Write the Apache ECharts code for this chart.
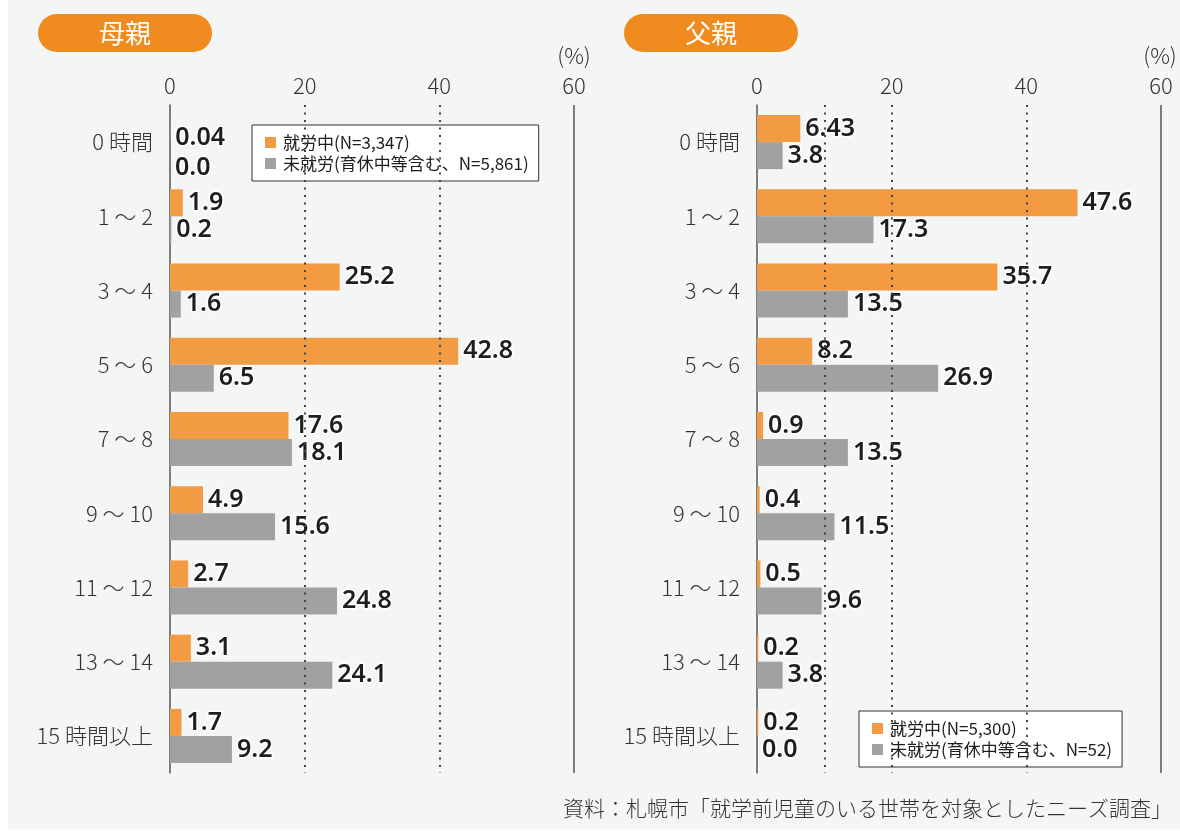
<!DOCTYPE html>
<html>
<head>
<meta charset="utf-8">
<script src="https://cdn.jsdelivr.net/npm/echarts@6/dist/echarts.min.js"></script>
<style>
html, body { margin: 0; padding: 0; background: #fff; }
#chart { width: 1180px; height: 832px; }
</style>
</head>
<body>
<div id="chart"></div>
<script>
var categories = ['0 時間', '1 ～ 2', '3 ～ 4', '5 ～ 6', '7 ～ 8', '9 ～ 10', '11 ～ 12', '13 ～ 14', '15 時間以上'];

// 母親
var motherWorking    = [0.04, 1.9, 25.2, 42.8, 17.6, 4.9, 2.7, 3.1, 1.7];
var motherNotWorking = [0.0, 0.2, 1.6, 6.5, 18.1, 15.6, 24.8, 24.1, 9.2];
// 父親
var fatherWorking    = [6.43, 47.6, 35.7, 8.2, 0.9, 0.4, 0.5, 0.2, 0.2];
var fatherNotWorking = [3.8, 17.3, 13.5, 26.9, 13.5, 11.5, 9.6, 3.8, 0.0];

var motherNames = ['就労中(N=3,347)', '未就労(育休中等含む、N=5,861)'];
var fatherNames = ['就労中(N=5,300)', '未就労(育休中等含む、N=52)'];

var FONT = '"Noto Sans CJK JP", "Noto Sans", sans-serif';
var NUMFONT = '"Noto Sans", "Noto Sans CJK JP", sans-serif';
var ORANGE = '#f29b42';
var GRAY = '#a0a1a0';

var chart = echarts.init(document.getElementById('chart'), null, { renderer: 'canvas' });

function fmt(p) {
    var v = p.value;
    return Number.isInteger(v) ? v.toFixed(1) : String(v);
}

// firstShift: 母親の0時間ラベルは少し下にずれている
function bar(name, data, color, idx, marks, firstShift) {
    var items = data.map(function(v, i) {
        if (i === 0 && firstShift) {
            return { value: v, label: { offset: [0, firstShift] } };
        }
        return v;
    });
    var s = {
        name: name,
        type: 'bar',
        xAxisIndex: idx,
        yAxisIndex: idx,
        data: items,
        barWidth: 27,
        barGap: '0%',
        itemStyle: { color: color },
        label: {
            show: true,
            position: 'right',
            distance: 5,
            formatter: fmt,
            fontFamily: NUMFONT,
            fontWeight: 600,
            fontSize: 25,
            color: '#1e1e1e',
            textBorderColor: '#fff',
            textBorderWidth: 3
        }
    };
    if (marks) {
        s.markLine = {
            silent: true,
            symbol: ['none', 'none'],
            label: { show: false },
            lineStyle: { type: [2, 5.5], color: '#444', width: 2 },
            data: marks
        };
    }
    return s;
}

function xAxis(idx) {
    return {
        gridIndex: idx,
        type: 'value',
        position: 'top',
        min: 0,
        max: 60,
        interval: 20,
        axisLine: { show: false },
        axisTick: { show: false },
        splitLine: { show: false },
        axisLabel: { margin: 8, fontSize: 22, fontFamily: FONT, fontWeight: 300, color: '#333' }
    };
}

function yAxis(idx) {
    return {
        gridIndex: idx,
        type: 'category',
        inverse: true,
        data: categories,
        axisLine: { show: true, lineStyle: { color: '#555', width: 1.5 } },
        axisTick: { show: false },
        axisLabel: { margin: 17, fontSize: 22, fontFamily: FONT, fontWeight: 300, color: '#333' }
    };
}

function legend(names, left, top) {
    return {
        data: names,
        orient: 'vertical',
        left: left,
        top: top,
        icon: 'rect',
        itemWidth: 11,
        itemHeight: 11,
        itemGap: 4,
        padding: [9, 10, 9, 13],
        backgroundColor: '#fff',
        borderColor: '#333',
        borderWidth: 1,
        borderRadius: 0,
        selectedMode: false,
        textStyle: { fontSize: 17, lineHeight: 17, fontFamily: FONT, color: '#1e1e1e', padding: [0, 0, 0, 2] }
    };
}

var solid60 = { xAxis: 60, lineStyle: { type: 'solid', color: '#555', width: 1.5 } };

var option = {
    animation: false,
    backgroundColor: '#fff',
    textStyle: { fontFamily: FONT },
    graphic: [
        { type: 'rect', z: -10, shape: { x: 8, y: 0, width: 1172, height: 829 }, style: { fill: '#f4f6f5' } },
        { type: 'rect', shape: { x: 38, y: 14, width: 174, height: 38, r: 19 }, style: { fill: '#ef8b1f' } },
        { type: 'text', x: 125, y: 33, style: { text: '母親', fill: '#fff', font: '400 26px ' + FONT, align: 'center', verticalAlign: 'middle' } },
        { type: 'rect', shape: { x: 624, y: 14, width: 174, height: 38, r: 19 }, style: { fill: '#ef8b1f' } },
        { type: 'text', x: 711, y: 33, style: { text: '父親', fill: '#fff', font: '400 26px ' + FONT, align: 'center', verticalAlign: 'middle' } },
        { type: 'text', x: 574, y: 56, style: { text: '(%)', fill: '#333', font: '300 22px ' + FONT, align: 'center', verticalAlign: 'middle' } },
        { type: 'text', x: 1160, y: 56, style: { text: '(%)', fill: '#333', font: '300 22px ' + FONT, align: 'center', verticalAlign: 'middle' } },
        { type: 'text', x: 1172, y: 808, style: { text: '資料：札幌市「就学前児童のいる世帯を対象としたニーズ調査」', fill: '#333', font: '300 21px ' + FONT, align: 'right', verticalAlign: 'middle' } }
    ],
    legend: [
        legend(motherNames, 252, 125),
        legend(fatherNames, 859, 711)
    ],
    grid: [
        { left: 170, width: 404, top: 105, height: 668 },
        { left: 757, width: 404, top: 105, height: 668 }
    ],
    xAxis: [xAxis(0), xAxis(1)],
    yAxis: [yAxis(0), yAxis(1)],
    series: [
        bar(motherNames[0], motherWorking, ORANGE, 0, [{ xAxis: 20 }, { xAxis: 40 }, solid60], 9),
        bar(motherNames[1], motherNotWorking, GRAY, 0, null, 12),
        bar(fatherNames[0], fatherWorking, ORANGE, 1, [{ xAxis: 10 }, { xAxis: 20 }, { xAxis: 40 }, solid60]),
        bar(fatherNames[1], fatherNotWorking, GRAY, 1)
    ]
};

chart.setOption(option);
</script>
</body>
</html>
